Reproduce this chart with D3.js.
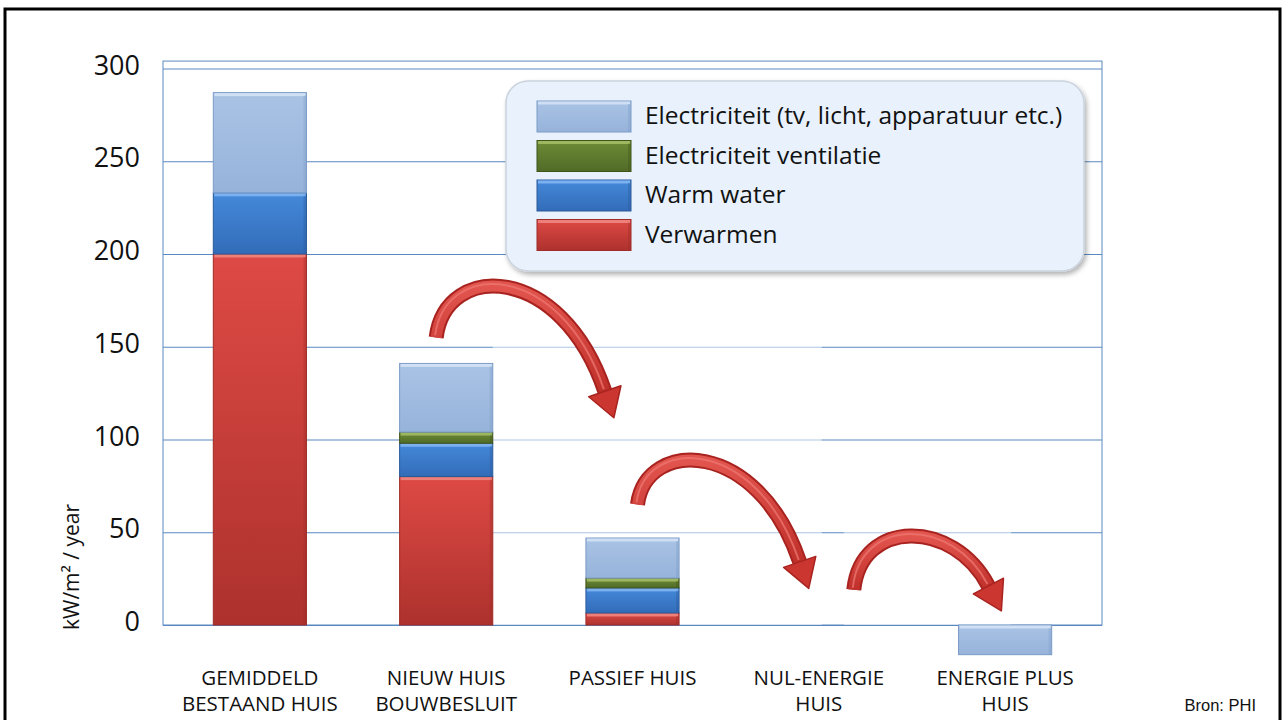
<!DOCTYPE html>
<html>
<head>
<meta charset="utf-8">
<script src="https://cdn.jsdelivr.net/npm/d3@7"></script>
<style>
  body { margin: 0; background: #fff; }
  svg { display: block; }
  text { font-family: "Open Sans", "Noto Sans", sans-serif; fill: #111; }
</style>
</head>
<body>
<svg id="chart" width="1285" height="720"></svg>
<script>
// categories and stacked series (kWh/m2 per year)
var categories = [["GEMIDDELD", "BESTAAND HUIS"], ["NIEUW HUIS", "BOUWBESLUIT"], ["PASSIEF HUIS"], ["NUL-ENERGIE", "HUIS"], ["ENERGIE PLUS", "HUIS"]];
var verwarmen = [200, 80, 6.5, 0, 0];
var warmWater = [33, 18, 13.5, 0, 0];
var ventilatie = [0, 6, 5.3, 0, 0];
var electriciteit = [54, 37, 21.6, 0, -16];
var yTicks = [0, 50, 100, 150, 200, 250, 300];
var seriesNames = ["Electriciteit (tv, licht, apparatuur etc.)", "Electriciteit ventilatie", "Warm water", "Verwarmen"];

// arrows between bars: from category index, tail / peak / tip heights in data units
var arrowFrom = [1, 2, 3];
var arrowTail = [155, 65, 19];
var arrowPeak = [182, 88, 48];
var arrowTip = [112, 20, 7];

var margin = {top: 61, left: 163, right: 183, bottom: 95};
var W = 1285, H = 720;
var svg = d3.select("#chart");
var defs = svg.append("defs");

var x = d3.scaleBand()
  .domain(d3.range(categories.length))
  .range([margin.left, W - margin.right])
  .paddingInner(0.5)
  .paddingOuter(0.27);
var y = d3.scaleLinear().domain([0, 300]).range([625, 68.5]);

// outer black frame
svg.append("rect")
  .attr("x", 5).attr("y", 9).attr("width", 1275).attr("height", 730)
  .attr("fill", "none").attr("stroke", "#000").attr("stroke-width", 3);

// gridlines
var grid = svg.append("g")
  .attr("transform", "translate(" + margin.left + ",0)")
  .call(d3.axisLeft(y).tickValues(yTicks).tickSize(-(W - margin.right - margin.left)).tickFormat(""));
grid.select(".domain").remove();
grid.selectAll("line").attr("stroke", "#5a89c2").attr("stroke-width", 1);

// plot frame
svg.append("rect")
  .attr("x", margin.left).attr("y", y(304))
  .attr("width", W - margin.right - margin.left).attr("height", y(0) - y(304))
  .attr("fill", "none").attr("stroke", "#5a89c2").attr("stroke-width", 1);

// y tick labels
svg.append("g").selectAll("text")
  .data(yTicks).enter().append("text")
  .attr("x", 140).attr("y", function(d) { return y(d) + 6; })
  .attr("text-anchor", "end").style("font-size", "27px")
  .text(function(d) { return d; });

// y axis title
svg.append("text")
  .attr("transform", "translate(79,567) rotate(-90)")
  .attr("text-anchor", "middle").style("font-size", "21px")
  .text("kW/m\u00B2 / year");

// light boxes behind arrows (pasted pictures)
var bw = x.bandwidth();
var boxes = [
  [x(1) + bw, x(3) + bw / 2 + 3, 185, 0],
  [x(3) + bw / 2 + 25, x(4) + bw / 2 + 6, 50.5, 0]
];
svg.append("g").selectAll("rect").data(boxes).enter().append("rect")
  .attr("x", function(d) { return d[0]; })
  .attr("y", function(d) { return y(d[2]); })
  .attr("width", function(d) { return d[1] - d[0]; })
  .attr("height", function(d) { return y(d[3]) - y(d[2]); })
  .attr("fill", "#fff").attr("opacity", 0.5);

// colour styles
var styles = {
  elec: {base: "#a2bde2", top: "#a9c3e5", bot: "#97b3da", hi: "#d3e2f5", edge: "#7a9bc6"},
  vent: {base: "#5f7d2f", top: "#6d8c37", bot: "#516b27", hi: "#a3bd66", edge: "#3f5419"},
  water: {base: "#3b7bcd", top: "#4589da", bot: "#326cb8", hi: "#82b6f2", edge: "#2a5a9a"},
  heat: {base: "#d8423d", top: "#de4a45", bot: "#ad312d", hi: "#f08682", edge: "#9e2c28"}
};
Object.keys(styles).forEach(function(k) {
  var g = defs.append("linearGradient").attr("id", "g-" + k)
    .attr("x1", 0).attr("y1", 0).attr("x2", 0).attr("y2", 1);
  g.append("stop").attr("offset", "0%").attr("stop-color", styles[k].top);
  g.append("stop").attr("offset", "100%").attr("stop-color", styles[k].bot);
});

function bevelRect(sel, x0, y0, w, h, key) {
  if (h <= 0) return;
  var s = styles[key];
  sel.append("rect").attr("x", x0).attr("y", y0).attr("width", w).attr("height", h)
    .attr("fill", "url(#g-" + key + ")").attr("stroke", s.edge).attr("stroke-width", 1);
  var hh = Math.min(3, h / 3);
  sel.append("rect").attr("x", x0 + 1).attr("y", y0 + 0.5).attr("width", w - 2).attr("height", hh)
    .attr("fill", s.hi).attr("opacity", 0.9);
  sel.append("rect").attr("x", x0 + w - 3).attr("y", y0 + hh).attr("width", 2.5).attr("height", Math.max(0, h - hh - 0.5))
    .attr("fill", s.edge).attr("opacity", 0.35);
}

// stacked bars
var stackKeys = [["heat", verwarmen], ["water", warmWater], ["vent", ventilatie], ["elec", electriciteit]];
var bars = svg.append("g");
categories.forEach(function(c, i) {
  var posBase = 0, negBase = 0;
  stackKeys.forEach(function(sk) {
    var v = sk[1][i];
    if (v > 0) {
      bevelRect(bars, x(i), y(posBase + v), bw, y(posBase) - y(posBase + v), sk[0]);
      posBase += v;
    } else if (v < 0) {
      bevelRect(bars, x(i), y(negBase), bw, y(negBase + v) - y(negBase), sk[0]);
      negBase += v;
    }
  });
});

// category labels
var lab = svg.append("g");
categories.forEach(function(c, i) {
  var t = lab.append("text").attr("text-anchor", "middle").style("font-size", "20.5px");
  c.forEach(function(line, j) {
    t.append("tspan").attr("x", x(i) + bw / 2).attr("y", 685 + j * 26).text(line);
  });
});

// curved arrows
var ag = defs.append("linearGradient").attr("id", "g-arrow")
  .attr("x1", 0).attr("y1", 0).attr("x2", 0).attr("y2", 1);
ag.append("stop").attr("offset", "0%").attr("stop-color", "#e2544e");
ag.append("stop").attr("offset", "100%").attr("stop-color", "#c0302b");

var arrows = svg.append("g");
var tailOffset = [-10, 5, 35];
var tipOffset = [-13, -5, -5];
arrowFrom.forEach(function(f, i) {
  var x0 = x(f) + bw / 2 + tailOffset[i], y0 = y(arrowTail[i]);
  var xt = x(f + 1) + bw / 2 + tipOffset[i], yt = y(arrowTip[i]);
  var dx = xt - x0;
  // base of the head a bit above the tip
  var x3 = xt - 0.08 * dx, y3 = yt - 26;
  var yp = y(arrowPeak[i]);
  var c = (yp - 0.125 * (y0 + y3)) / 0.75;
  var p1 = [x0 + 0.05 * dx, c], p2 = [x0 + 0.68 * dx, c];
  var path = "M" + x0 + "," + y0 + " C" + p1 + " " + p2 + " " + x3 + "," + y3;
  arrows.append("path").attr("d", path).attr("fill", "none")
    .attr("stroke", "#a8231f").attr("stroke-width", 15);
  arrows.append("path").attr("d", path).attr("fill", "none")
    .attr("stroke", "url(#g-arrow)").attr("stroke-width", 11);
  arrows.append("path").attr("d", path).attr("fill", "none")
    .attr("stroke", "#ee7a74").attr("stroke-width", 2).attr("opacity", 0.7)
    .attr("transform", "translate(-1,-2)");
  // head
  var ux = x3 - p2[0], uy = y3 - p2[1];
  var len = Math.sqrt(ux * ux + uy * uy);
  ux /= len; uy /= len;
  var nx = -uy, ny = ux;
  var hw = 17, hl = 28;
  var pts = [
    [x3 + nx * hw, y3 + ny * hw],
    [x3 + ux * hl, y3 + uy * hl],
    [x3 - nx * hw, y3 - ny * hw]
  ];
  arrows.append("polygon").attr("points", pts.map(function(p) { return p.join(","); }).join(" "))
    .attr("fill", "#cc3630").attr("stroke", "#a8231f").attr("stroke-width", 1.5).attr("stroke-linejoin", "round");
});

// legend
var shadow = defs.append("filter").attr("id", "shadow").attr("x", "-5%").attr("y", "-5%").attr("width", "115%").attr("height", "125%");
shadow.append("feDropShadow").attr("dx", 2).attr("dy", 3).attr("stdDeviation", 2.5).attr("flood-color", "#000").attr("flood-opacity", 0.3);

var legend = svg.append("g");
legend.append("rect")
  .attr("x", 506).attr("y", 81).attr("width", 578).attr("height", 190)
  .attr("rx", 22).attr("ry", 22)
  .attr("fill", "#e8f1fc").attr("stroke", "#c9d2dd").attr("stroke-width", 1.5)
  .attr("filter", "url(#shadow)");
var legendKeys = ["elec", "vent", "water", "heat"];
seriesNames.forEach(function(name, i) {
  var cy = 116 + i * 39.5;
  bevelRect(legend, 537, cy - 15, 94, 31, legendKeys[i]);
  legend.append("text").attr("x", 645).attr("y", cy + 8)
    .style("font-size", "24.5px").text(name);
});

// source
svg.append("text").attr("x", 1256).attr("y", 711)
  .attr("text-anchor", "end")
  .style("font-family", "'Liberation Sans', Arial, sans-serif").style("font-size", "16.5px")
  .text("Bron: PHI");
</script>
</body>
</html>
